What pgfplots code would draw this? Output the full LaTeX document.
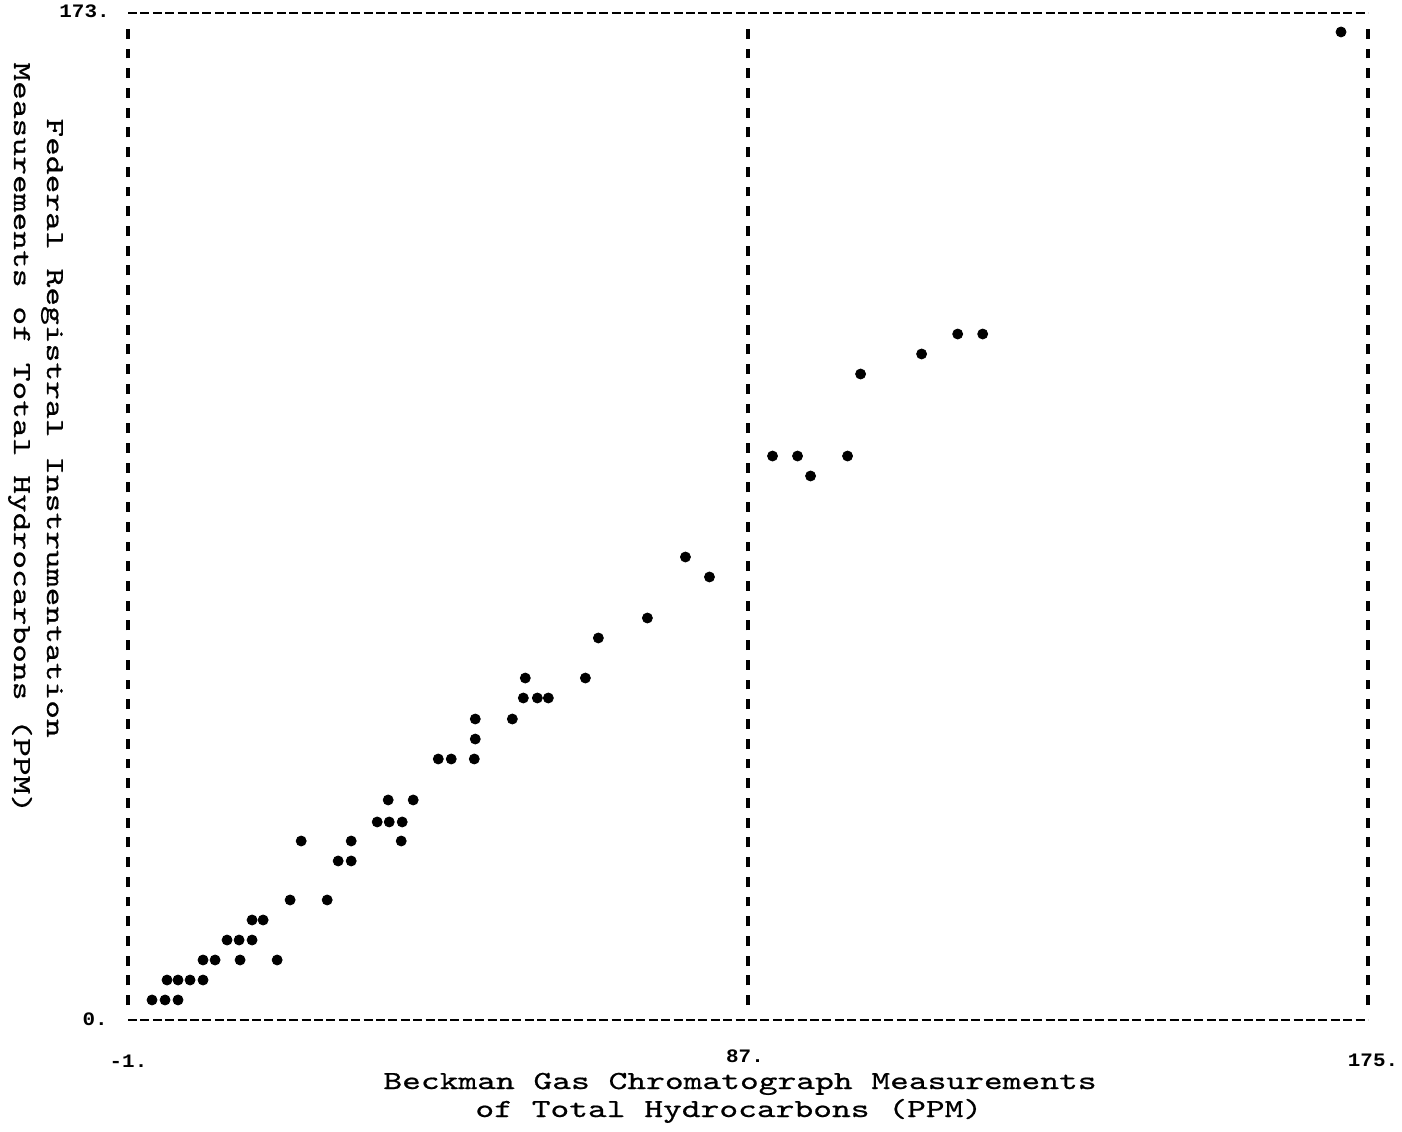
\documentclass[border=0pt]{standalone}
\usepackage{fontspec}
\usepackage{pgfplots}
\pgfplotsset{compat=1.18}
\newfontfamily\tickf[FakeStretch=1.1]{Liberation Mono}
\newfontfamily\labff[FakeStretch=1.375,FakeBold=0.7]{lmmono10-regular.otf}
\newcommand\labf{\labff\fontsize{13}{14}\selectfont}
\begin{document}
\begin{tikzpicture}
\begin{axis}[at={(64pt,55.5pt)}, anchor=south west, scale only axis,
  width=620pt, height=503.5pt, xmin=-1, xmax=175, ymin=0, ymax=173,
  hide axis, clip=false]
% frame
\addplot[black, line width=1.4pt, dash pattern=on 4.5pt off 1.7pt] coordinates {(-1,0) (175,0)};
\addplot[black, line width=1.4pt, dash pattern=on 4.5pt off 1.7pt] coordinates {(-1,173) (175,173)};
\addplot[black, line width=1.8pt, dash pattern=on 4.93pt off 4.93pt] coordinates {(-1,2.577) (-1,170.43)};
\addplot[black, line width=1.8pt, dash pattern=on 4.93pt off 4.93pt] coordinates {(175,2.577) (175,170.43)};
\addplot[black, line width=1.8pt, dash pattern=on 4.93pt off 4.93pt] coordinates {(87,2.577) (87,170.43)};
% data
\addplot[only marks, mark=*, mark size=2.5pt, black] table {
x y
2.41 3.44
4.26 3.44
6.10 3.44
4.54 6.87
6.10 6.87
7.81 6.87
9.65 6.87
9.65 10.31
11.36 10.31
14.91 10.31
20.17 10.31
13.06 13.74
14.77 13.74
16.61 13.74
16.61 17.18
18.18 17.18
22.01 20.62
27.27 20.62
28.83 27.32
30.68 27.32
23.58 30.75
30.68 30.75
37.78 30.75
34.37 34.02
36.08 34.02
37.92 34.02
35.93 37.80
39.48 37.80
43.04 44.84
44.88 44.84
48.15 44.84
48.29 48.27
48.29 51.71
53.55 51.71
55.11 55.32
57.10 55.32
58.66 55.32
55.39 58.75
63.92 58.75
65.76 65.63
72.72 69.06
81.53 76.11
78.12 79.54
90.48 96.89
94.03 96.89
101.13 96.89
95.88 93.46
102.98 110.98
111.64 114.42
116.76 117.85
120.31 117.85
171.17 169.74
};
\end{axis}
% tick labels
\node[inner sep=0pt, anchor=mid east] at (55pt,559pt) {\tickf\bfseries\fontsize{9.5}{10}\selectfont 173.};
\node[inner sep=0pt, anchor=mid east] at (54pt,55pt) {\tickf\bfseries\fontsize{9.5}{10}\selectfont 0.};
\node[inner sep=0pt, anchor=mid] at (64.25pt,34pt) {\tickf\bfseries\fontsize{9.5}{10}\selectfont -1.};
\node[inner sep=0pt, anchor=mid] at (372.5pt,36.5pt) {\tickf\bfseries\fontsize{9.5}{10}\selectfont 87.};
\node[inner sep=0pt, anchor=mid] at (686.5pt,34.5pt) {\tickf\bfseries\fontsize{9.5}{10}\selectfont 175.};
% axis labels
\node[inner sep=0pt, anchor=base west] at (191.5pt,21pt) {\labf Beckman Gas Chromatograph Measurements};
\node[inner sep=0pt, anchor=base west] at (237.5pt,7pt) {\labf of Total Hydrocarbons (PPM)};
\node[inner sep=0pt, anchor=base west, rotate=-90] at (23.5pt,506.5pt) {\labf Federal Registral Instrumentation};
\node[inner sep=0pt, anchor=base west, rotate=-90] at (7pt,534.5pt) {\labf Measurements of Total Hydrocarbons (PPM)};
\pgfresetboundingbox
\path[use as bounding box] (0,0) rectangle (701pt,565.5pt);
\end{tikzpicture}
\end{document}
